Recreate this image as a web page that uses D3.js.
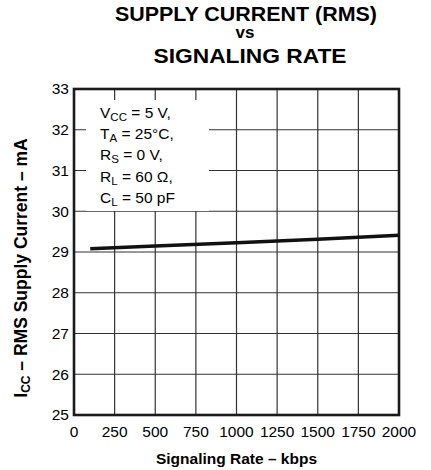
<!DOCTYPE html>
<html>
<head>
<meta charset="utf-8">
<script src="https://cdn.jsdelivr.net/npm/d3@7"></script>
<style>
  body { margin: 0; background: #fff; }
  text { font-family: "Liberation Sans", Arial, sans-serif; fill: #000; }
</style>
</head>
<body>
<div id="chart"></div>
<script>
// data
const signalingRate = [100, 500, 1000, 1500, 2000]
const supplyCurrent = [29.08, 29.15, 29.23, 29.31, 29.41]

const xTicks = [0, 250, 500, 750, 1000, 1250, 1500, 1750, 2000]
const yTicks = [25, 26, 27, 28, 29, 30, 31, 32, 33]

const conditions = [
  ['V', 'CC', ' = 5 V,'],
  ['T', 'A', ' = 25°C,'],
  ['R', 'S', ' = 0 V,'],
  ['R', 'L', ' = 60 Ω,'],
  ['C', 'L', ' = 50 pF']
]

const dims = { width: 431, height: 470 }
const plot = { left: 74, right: 399, top: 89, bottom: 415 }

const svg = d3.select('#chart')
  .append('svg')
  .attr('width', dims.width)
  .attr('height', dims.height)

const x = d3.scaleLinear().domain([0, 2000]).range([plot.left, plot.right])
const y = d3.scaleLinear().domain([25, 33]).range([plot.bottom, plot.top])

// title (the original type is a bit wider than Liberation Sans, so stretch it)
const title = svg.append('g').attr('font-weight', 'bold').attr('text-anchor', 'middle')
title.append('text').attr('x', 246).attr('y', 21).attr('font-size', 20)
  .attr('textLength', 262).attr('lengthAdjust', 'spacingAndGlyphs')
  .text('SUPPLY CURRENT (RMS)')
title.append('text').attr('x', 245).attr('y', 38).attr('font-size', 17).text('vs')
title.append('text').attr('x', 250).attr('y', 63).attr('font-size', 20.5)
  .attr('textLength', 193).attr('lengthAdjust', 'spacingAndGlyphs')
  .text('SIGNALING RATE')

// grid
const grid = svg.append('g').attr('stroke', '#333').attr('stroke-width', 1.2)
grid.selectAll('line.v')
  .data(xTicks.slice(1, -1))
  .enter().append('line')
  .attr('x1', d => x(d)).attr('x2', d => x(d))
  .attr('y1', plot.top).attr('y2', plot.bottom)
grid.selectAll('line.h')
  .data(yTicks.slice(1, -1))
  .enter().append('line')
  .attr('x1', plot.left).attr('x2', plot.right)
  .attr('y1', d => y(d)).attr('y2', d => y(d))

// white box behind the test conditions, leaves tick stubs showing
svg.append('rect')
  .attr('x', 86).attr('y', 100)
  .attr('width', 123).attr('height', 111)
  .attr('fill', '#fff')

const cond = svg.append('g').attr('font-size', 15.5)
conditions.forEach((c, i) => {
  const t = cond.append('text').attr('x', 100).attr('y', 118 + i * 21.2)
  t.append('tspan').text(c[0])
  t.append('tspan').attr('font-size', 11.5).attr('dy', 3).text(c[1])
  t.append('tspan').attr('dy', -3).text(c[2])
})

// frame
svg.append('rect')
  .attr('x', plot.left).attr('y', plot.top)
  .attr('width', plot.right - plot.left).attr('height', plot.bottom - plot.top)
  .attr('fill', 'none').attr('stroke', '#1a1a1a').attr('stroke-width', 2.6)

// curve
const line = d3.line()
  .x((d, i) => x(signalingRate[i]))
  .y(d => y(d))
svg.append('path')
  .datum(supplyCurrent)
  .attr('d', line)
  .attr('fill', 'none')
  .attr('stroke', '#111')
  .attr('stroke-width', 3.5)

// axes labels
svg.append('g').attr('font-size', 15.5).attr('text-anchor', 'end')
  .selectAll('text').data(yTicks).enter().append('text')
  .attr('x', plot.left - 5).attr('y', d => y(d)).attr('dy', '0.35em')
  .text(d => d)

svg.append('g').attr('font-size', 15.5).attr('text-anchor', 'middle')
  .selectAll('text').data(xTicks).enter().append('text')
  .attr('x', d => x(d)).attr('y', 437)
  .text(d => d)

svg.append('text')
  .attr('x', (plot.left + plot.right) / 2).attr('y', 464)
  .attr('text-anchor', 'middle').attr('font-weight', 'bold').attr('font-size', 15.5)
  .text('Signaling Rate – kbps')

const yt = svg.append('text')
  .attr('transform', 'translate(27, 268) rotate(-90)')
  .attr('text-anchor', 'middle').attr('font-weight', 'bold').attr('font-size', 17.5)
yt.append('tspan').text('I')
yt.append('tspan').attr('font-size', 12).attr('dy', 3).text('CC')
yt.append('tspan').attr('dy', -3).text(' – RMS Supply Current – mA')
</script>
</body>
</html>
